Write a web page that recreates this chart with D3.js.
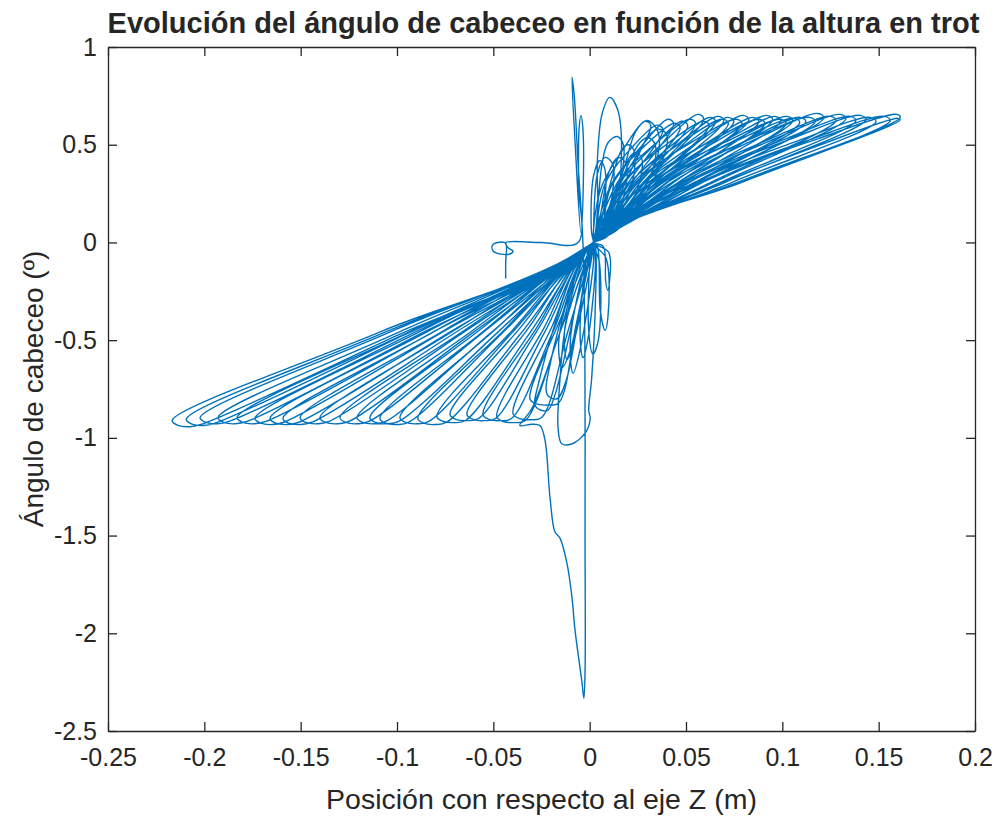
<!DOCTYPE html>
<html><head><meta charset="utf-8">
<script src="https://cdn.jsdelivr.net/npm/d3@7"></script>
<style>body{margin:0;background:#fff}svg{display:block}text{font-family:"Liberation Sans",Arial,sans-serif;fill:#262626}</style>
</head><body><svg id="c" width="997" height="817"></svg>
<script>
const titleText = "Evolución del ángulo de cabeceo en función de la altura en trot";
const xLabel = "Posición con respecto al eje Z (m)";
const yLabel = "Ángulo de cabeceo (º)";
const xTicks = [-0.25,-0.2,-0.15,-0.1,-0.05,0,0.05,0.1,0.15,0.2];
const xTickLabels = ["-0.25","-0.2","-0.15","-0.1","-0.05","0","0.05","0.1","0.15","0.2"];
const yTicks = [1,0.5,0,-0.5,-1,-1.5,-2,-2.5];
const yTickLabels = ["1","0.5","0","-0.5","-1","-1.5","-2","-2.5"];
const origin = [0.002,0.0];

// start of the trajectory: small loop, jump, pitch spikes and the deep dip
const startPath = [[-0.0436,-0.185],[-0.0436,-0.10],[-0.0436,-0.005],[-0.047,0.001],[-0.0505,-0.015],[-0.050,-0.045],[-0.046,-0.060],[-0.041,-0.058],[-0.0397,-0.045],[-0.042,-0.030],[-0.0435,-0.010],[-0.0436,0.0],[-0.025,0.0],[-0.006,0.0],[-0.0058,0.30],[-0.0055,0.58],[-0.0045,0.65],[-0.0035,0.58],[-0.0033,0.30],[-0.0045,0.05],[-0.0075,0.50],[-0.0092,0.845],[-0.0080,0.75],[-0.0060,0.40],[-0.0035,0.0],[-0.0025,-0.50],[-0.0024,-1.50],[-0.0024,-2.20],[-0.0030,-2.332],[-0.0040,-2.25],[-0.0076,-1.984],[-0.0092,-1.815],[-0.0118,-1.641],[-0.0154,-1.513],[-0.0180,-1.482],[-0.0206,-1.303],[-0.0232,-1.011],[-0.0258,-0.937],[-0.0300,-0.930],[-0.0362,-0.937],[-0.030,-0.85],[-0.015,-0.45],[0.002,0.0]];
const extraLoop = [[0.0,-0.05],[-0.012,-0.40],[-0.0154,-0.70],[-0.0164,-0.95],[-0.0145,-1.03],[-0.009,-1.03],[-0.002,-0.97],[0.0003,-0.90],[-0.0005,-0.86],[0.001,-0.70],[0.003,-0.30],[0.003,-0.02]];

// early small lobes near the centre
const innerRight = [
 [[0.004,0.05],[0.0040,0.42],[0.0065,0.66],[0.0105,0.742],[0.0145,0.68],[0.0165,0.45],[0.012,0.10]],
 [[0.003,0.05],[0.0064,0.40],[0.0095,0.51],[0.0142,0.542],[0.0175,0.50],[0.0168,0.35],[0.010,0.05]],
 [[0.006,0.05],[0.0175,0.37],[0.024,0.57],[0.0298,0.624],[0.0355,0.565],[0.034,0.40],[0.015,0.10]],
 [[0.006,0.05],[0.020,0.40],[0.026,0.51],[0.0303,0.537],[0.034,0.50],[0.032,0.35],[0.014,0.08]],
 [[0.002,0.05],[0.004,0.35],[0.008,0.435],[0.012,0.40],[0.011,0.20],[0.006,0.03]],
 [[0.004,0.05],[0.010,0.36],[0.0147,0.435],[0.019,0.40],[0.018,0.25],[0.009,0.03]],
 [[0.001,0.05],[0.002,0.34],[0.0054,0.42],[0.008,0.37],[0.007,0.15],[0.003,0.02]],
 [[0.004,0.05],[0.013,0.38],[0.017,0.48],[0.020,0.50],[0.023,0.47],[0.022,0.30],[0.010,0.05]],
 [[0.005,0.05],[0.017,0.36],[0.021,0.44],[0.024,0.46],[0.027,0.43],[0.025,0.28],[0.011,0.05]],
 [[0.006,0.05],[0.024,0.42],[0.031,0.55],[0.036,0.58],[0.040,0.55],[0.037,0.40],[0.015,0.07]]
];
const innerLeft = [
 [[0.0070,-0.02],[0.0083,-0.20],[0.0093,-0.245],[0.0103,-0.20],[0.0098,-0.05]],
 [[0.004,-0.02],[0.0055,-0.35],[0.008,-0.45],[0.0095,-0.38],[0.0085,-0.08]],
 [[0.001,-0.02],[-0.0005,-0.45],[0.0017,-0.57],[0.0045,-0.50],[0.005,-0.10]],
 [[0.0,-0.02],[-0.005,-0.45],[-0.0035,-0.59],[-0.001,-0.50],[0.003,-0.10]],
 [[0.0,-0.03],[-0.010,-0.50],[-0.0086,-0.67],[-0.005,-0.55],[0.002,-0.10]],
 [[-0.001,-0.03],[-0.013,-0.45],[-0.0117,-0.60],[-0.008,-0.50],[0.001,-0.08]],
 [[-0.002,-0.03],[-0.016,-0.50],[-0.0143,-0.64],[-0.010,-0.55],[0.000,-0.08]],
 [[-0.003,-0.05],[-0.020,-0.60],[-0.022,-0.78],[-0.017,-0.80],[-0.012,-0.70],[-0.001,-0.10]],
 [[-0.004,-0.05],[-0.026,-0.70],[-0.028,-0.84],[-0.022,-0.86],[-0.018,-0.78],[-0.002,-0.10]],
 [[0.0,-0.02],[0.0,-0.10]]
];

// large lobes of the steady trot (right: positive pitch, left: negative pitch)
const fanRight = [
 [[0.0057,0.272],[0.0177,0.481],[0.0287,0.620],[0.0317,0.598],[0.0159,0.299]],
 [[0.0110,0.283],[0.0269,0.493],[0.0406,0.630],[0.0436,0.608],[0.0218,0.304]],
 [[0.0141,0.284],[0.0326,0.489],[0.0479,0.620],[0.0509,0.598],[0.0255,0.299]],
 [[0.0177,0.300],[0.0390,0.517],[0.0562,0.655],[0.0592,0.633],[0.0296,0.317]],
 [[0.0204,0.297],[0.0438,0.507],[0.0624,0.640],[0.0654,0.618],[0.0327,0.309]],
 [[0.0223,0.301],[0.0471,0.513],[0.0666,0.645],[0.0696,0.623],[0.0348,0.312]],
 [[0.0246,0.302],[0.0511,0.510],[0.0718,0.640],[0.0748,0.618],[0.0374,0.309]],
 [[0.0280,0.308],[0.0571,0.520],[0.0796,0.650],[0.0826,0.628],[0.0413,0.314]],
 [[0.0303,0.304],[0.0612,0.512],[0.0848,0.640],[0.0878,0.618],[0.0439,0.309]],
 [[0.0332,0.310],[0.0666,0.522],[0.0920,0.650],[0.0950,0.628],[0.0475,0.314]],
 [[0.0351,0.308],[0.0699,0.518],[0.0962,0.645],[0.0992,0.623],[0.0496,0.312]],
 [[0.0376,0.311],[0.0746,0.519],[0.1024,0.645],[0.1054,0.623],[0.0527,0.312]],
 [[0.0406,0.309],[0.0798,0.515],[0.1092,0.640],[0.1122,0.618],[0.0561,0.309]],
 [[0.0445,0.319],[0.0870,0.532],[0.1185,0.660],[0.1215,0.638],[0.0608,0.319]],
 [[0.0470,0.313],[0.0917,0.521],[0.1248,0.645],[0.1278,0.623],[0.0639,0.312]],
 [[0.0494,0.317],[0.0957,0.528],[0.1300,0.655],[0.1330,0.633],[0.0665,0.317]],
 [[0.0514,0.316],[0.0996,0.522],[0.1352,0.645],[0.1382,0.623],[0.0691,0.312]],
 [[0.0535,0.318],[0.1035,0.526],[0.1404,0.650],[0.1434,0.628],[0.0717,0.314]],
 [[0.0558,0.314],[0.1076,0.518],[0.1456,0.640],[0.1486,0.618],[0.0743,0.309]],
 [[0.0588,0.316],[0.1132,0.522],[0.1530,0.645],[0.1560,0.623],[0.0780,0.312]],
 [[0.0614,0.320],[0.1180,0.529],[0.1595,0.655],[0.1612,0.640],[0.0806,0.320]],
 [[0.0624,0.280],[0.1188,0.496],[0.1600,0.635],[0.1612,0.628],[0.0806,0.314]],
 [[0.0080,0.300],[0.0223,0.490],[0.0350,0.600],[0.0380,0.578],[0.0190,0.289]],
 [[0.0116,0.304],[0.0290,0.498],[0.0440,0.610],[0.0470,0.588],[0.0235,0.294]],
 [[0.0148,0.312],[0.0350,0.513],[0.0520,0.630],[0.0550,0.608],[0.0275,0.304]],
 [[0.0176,0.308],[0.0403,0.505],[0.0590,0.620],[0.0620,0.598],[0.0310,0.299]],
 [[0.0216,0.312],[0.0478,0.513],[0.0690,0.630],[0.0720,0.608],[0.0360,0.304]],
 [[0.0244,0.312],[0.0530,0.513],[0.0760,0.630],[0.0790,0.608],[0.0395,0.304]],
 [[0.0292,0.312],[0.0620,0.513],[0.0880,0.630],[0.0910,0.608],[0.0455,0.304]],
 [[0.0336,0.312],[0.0703,0.513],[0.0990,0.630],[0.1020,0.608],[0.0510,0.304]],
 [[0.0364,0.314],[0.0755,0.516],[0.1060,0.635],[0.1090,0.613],[0.0545,0.306]],
 [[0.0396,0.316],[0.0815,0.520],[0.1140,0.640],[0.1170,0.618],[0.0585,0.309]]
];
const fanLeft = [
 [[-0.1084,-0.456],[-0.2167,-0.911],[-0.2137,-0.936],[-0.2077,-0.943],[-0.2017,-0.931],[-0.0999,-0.476]],
 [[-0.1047,-0.453],[-0.2094,-0.905],[-0.2064,-0.930],[-0.2004,-0.937],[-0.1944,-0.925],[-0.0962,-0.473]],
 [[-0.1011,-0.448],[-0.2022,-0.896],[-0.1992,-0.921],[-0.1932,-0.928],[-0.1872,-0.916],[-0.0926,-0.468]],
 [[-0.0965,-0.448],[-0.1929,-0.896],[-0.1899,-0.921],[-0.1839,-0.928],[-0.1779,-0.916],[-0.0880,-0.468]],
 [[-0.0915,-0.448],[-0.1830,-0.896],[-0.1800,-0.921],[-0.1740,-0.928],[-0.1680,-0.916],[-0.0830,-0.468]],
 [[-0.0869,-0.450],[-0.1737,-0.900],[-0.1707,-0.925],[-0.1647,-0.932],[-0.1587,-0.920],[-0.0784,-0.470]],
 [[-0.0830,-0.450],[-0.1659,-0.900],[-0.1629,-0.925],[-0.1569,-0.932],[-0.1509,-0.920],[-0.0745,-0.470]],
 [[-0.0796,-0.450],[-0.1592,-0.900],[-0.1562,-0.925],[-0.1502,-0.932],[-0.1442,-0.920],[-0.0711,-0.470]],
 [[-0.0752,-0.448],[-0.1503,-0.896],[-0.1473,-0.921],[-0.1413,-0.928],[-0.1353,-0.916],[-0.0667,-0.468]],
 [[-0.0700,-0.448],[-0.1400,-0.896],[-0.1370,-0.921],[-0.1310,-0.928],[-0.1250,-0.916],[-0.0615,-0.468]],
 [[-0.0648,-0.448],[-0.1296,-0.896],[-0.1266,-0.921],[-0.1206,-0.928],[-0.1146,-0.916],[-0.0563,-0.468]],
 [[-0.0604,-0.448],[-0.1208,-0.896],[-0.1178,-0.921],[-0.1118,-0.928],[-0.1058,-0.916],[-0.0519,-0.468]],
 [[-0.0571,-0.448],[-0.1141,-0.896],[-0.1111,-0.921],[-0.1051,-0.928],[-0.0991,-0.916],[-0.0486,-0.468]],
 [[-0.0545,-0.450],[-0.1089,-0.900],[-0.1059,-0.925],[-0.0999,-0.932],[-0.0939,-0.920],[-0.0460,-0.470]],
 [[-0.0493,-0.448],[-0.0985,-0.896],[-0.0955,-0.921],[-0.0895,-0.928],[-0.0835,-0.916],[-0.0408,-0.468]],
 [[-0.0446,-0.450],[-0.0892,-0.900],[-0.0862,-0.925],[-0.0802,-0.932],[-0.0742,-0.920],[-0.0361,-0.470]],
 [[-0.0397,-0.445],[-0.0793,-0.890],[-0.0763,-0.915],[-0.0703,-0.922],[-0.0643,-0.910],[-0.0312,-0.465]],
 [[-0.0363,-0.440],[-0.0725,-0.880],[-0.0695,-0.905],[-0.0635,-0.912],[-0.0575,-0.900],[-0.0278,-0.460]],
 [[-0.0319,-0.440],[-0.0637,-0.880],[-0.0607,-0.905],[-0.0547,-0.912],[-0.0487,-0.900],[-0.0234,-0.460]],
 [[-0.0277,-0.440],[-0.0554,-0.880],[-0.0524,-0.905],[-0.0464,-0.912],[-0.0404,-0.900],[-0.0192,-0.460]],
 [[-0.0241,-0.445],[-0.0482,-0.890],[-0.0452,-0.915],[-0.0392,-0.922],[-0.0332,-0.910],[-0.0156,-0.465]],
 [[-0.0199,-0.438],[-0.0398,-0.875],[-0.0368,-0.900],[-0.0308,-0.907],[-0.0248,-0.895],[-0.0114,-0.458]],
 [[-0.0155,-0.400],[-0.0310,-0.800],[-0.0280,-0.825],[-0.0220,-0.832],[-0.0160,-0.820],[-0.0070,-0.420]]
];

// assemble the trajectory in time order
const traj = [...startPath];
innerRight.forEach((lobe,i)=>{ traj.push(origin, ...lobe, origin, ...innerLeft[i]); });
traj.push(origin, ...extraLoop);
fanRight.forEach((lobe,i)=>{ traj.push(origin, ...lobe, origin, ...(fanLeft[i]||[])); });
fanLeft.slice(fanRight.length).forEach(lobe=>{ traj.push(origin, ...lobe); });
traj.push(origin);

const L=108, R=975, T=47, B=731;
const svg = d3.select("#c");
const x = d3.scaleLinear().domain([-0.25,0.2]).range([L,R]);
const y = d3.scaleLinear().domain([-2.5,1]).range([B,T]);
const axisCol = "#262626";

svg.append("defs").append("clipPath").attr("id","clip").append("rect")
  .attr("x",L).attr("y",T).attr("width",R-L).attr("height",B-T);

const line = d3.line().x(d=>x(d[0])).y(d=>y(d[1])).curve(d3.curveCatmullRom.alpha(0.5));
svg.append("path").attr("clip-path","url(#clip)").datum(traj).attr("d",line)
  .attr("fill","none").attr("stroke","#0072BD").attr("stroke-width",1.4).attr("stroke-linejoin","round");

const tk = 9;
function styleAxis(g){ g.selectAll("path").attr("stroke",axisCol).attr("stroke-width",1.3);
  g.selectAll("line").attr("stroke",axisCol).attr("stroke-width",1.3);
  g.selectAll("text").attr("fill",axisCol).style("font-size","25px").style("font-family",'"Liberation Sans",Arial,sans-serif'); }
svg.append("g").attr("transform",`translate(0,${B})`)
  .call(d3.axisBottom(x).tickValues(xTicks).tickFormat((d,i)=>xTickLabels[i]).tickSizeInner(-tk).tickSizeOuter(0).tickPadding(17))
  .call(styleAxis).call(g=>g.selectAll("text").attr("dy","0.71em"));
svg.append("g").attr("transform",`translate(0,${T})`)
  .call(d3.axisTop(x).tickValues(xTicks).tickFormat("").tickSizeInner(-tk).tickSizeOuter(0)).call(styleAxis);
svg.append("g").attr("transform",`translate(${L},0)`)
  .call(d3.axisLeft(y).tickValues(yTicks).tickFormat((d,i)=>yTickLabels[i]).tickSizeInner(-tk).tickSizeOuter(0).tickPadding(11))
  .call(styleAxis);
svg.append("g").attr("transform",`translate(${R},0)`)
  .call(d3.axisRight(y).tickValues(yTicks).tickFormat("").tickSizeInner(-tk).tickSizeOuter(0)).call(styleAxis);

svg.append("text").attr("x",(L+R)/2+2).attr("y",33).attr("text-anchor","middle")
  .style("font-size","29px").style("font-weight","bold").text(titleText);
svg.append("text").attr("x",(L+R)/2).attr("y",809).attr("text-anchor","middle")
  .style("font-size","28.5px").text(xLabel);
svg.append("text").attr("transform",`translate(43,${(T+B)/2}) rotate(-90)`).attr("text-anchor","middle")
  .style("font-size","28px").text(yLabel);
</script></body></html>
